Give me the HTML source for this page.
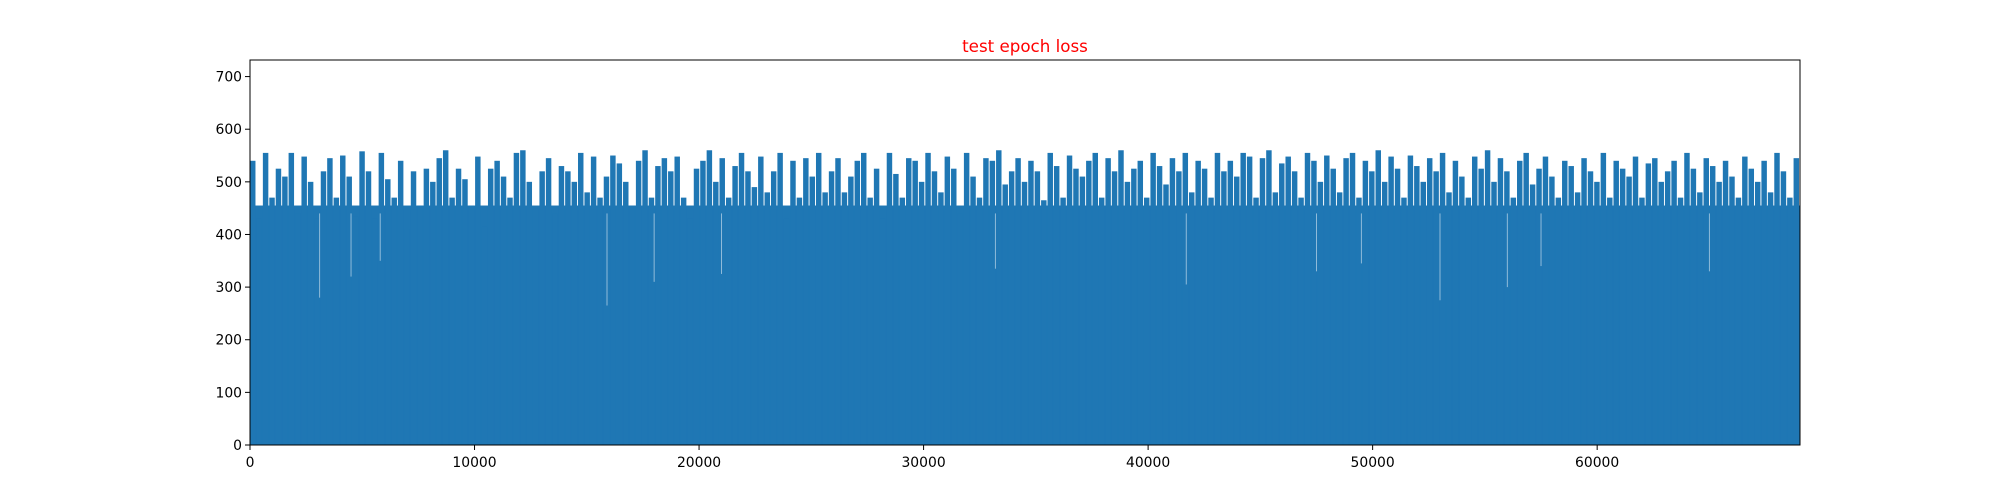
<!DOCTYPE html>
<html><head><meta charset="utf-8"><style>
html,body{margin:0;padding:0;background:#fff;width:2000px;height:500px;overflow:hidden}
svg{display:block;font-family:"DejaVu Sans","Liberation Sans",sans-serif}
</style></head><body>
<svg id="chart" width="2000" height="500" viewBox="0 0 2000 500">
<text x="1025" y="52" text-anchor="middle" font-size="16.7" fill="#ff0000">test epoch loss</text>
<g id="marks"></g>
<g id="dips"></g>
<rect x="250" y="60" width="1550" height="385" fill="none" stroke="#000" stroke-width="1"/>
<g id="xaxis"></g>
<g id="yaxis"></g>
</svg>
<script>
const xTicks=[0,10000,20000,30000,40000,50000,60000];
const yTicks=[0,100,200,300,400,500,600,700];
const loss=[540,430,555,470,525,510,555,440,548,500,430,520,545,470,550,510,435,558,520,430,555,505,470,540,410,520,455,525,500,545,560,470,525,505,455,548,415,525,540,510,470,555,560,500,450,520,545,440,530,520,500,555,480,548,470,510,550,535,500,455,540,560,470,530,545,520,548,470,430,525,540,560,500,545,470,530,555,520,490,548,480,520,555,430,540,470,545,510,555,480,520,545,480,510,540,555,470,525,430,555,515,470,545,540,500,555,520,480,548,525,440,555,510,470,545,540,560,495,520,545,500,540,520,465,555,530,470,550,525,510,540,555,470,545,520,560,500,525,540,470,555,530,495,545,520,555,480,540,525,470,555,520,540,510,555,548,470,545,560,480,535,548,520,470,555,540,500,550,525,480,545,555,470,540,520,560,500,548,525,470,550,530,500,545,520,555,480,540,510,470,548,525,560,500,545,520,470,540,555,495,525,548,510,470,540,530,480,545,520,500,555,470,540,525,510,548,470,535,545,500,520,540,470,555,525,480,545,530,500,540,510,470,548,525,500,540,480,555,520,470,545];
const dipX=[3100,4500,5800,15900,18000,21000,33200,41700,47500,49500,53000,56000,57500,65000];
const dipY=[280,320,350,265,310,325,335,305,330,345,275,300,340,330];
const X0=250,X1=1800,Y0=445,Y1=60,XMAX=69034,YMAX=731.5;
const sx=v=>X0+(v/XMAX)*(X1-X0);
const sy=v=>Y0-(v/YMAX)*(Y0-Y1);
const ns="http://www.w3.org/2000/svg";
const n=loss.length;
const band=document.createElementNS(ns,'rect');
band.setAttribute('x',X0);band.setAttribute('y',sy(455));band.setAttribute('width',X1-X0);band.setAttribute('height',Y0-sy(455));band.setAttribute('fill','#1f77b4');


document.getElementById('marks').appendChild(band);
const step=(X1-X0)/n;
loss.forEach((v,i)=>{
const r=document.createElementNS(ns,'rect');
const x=sx(i*XMAX/n);
r.setAttribute('x',x);r.setAttribute('width',step*0.85);r.setAttribute('y',sy(v));r.setAttribute('height',Y0-sy(v));r.setAttribute('fill','#1f77b4');


document.getElementById('marks').appendChild(r);});
dipX.forEach((xv,i)=>{const l=document.createElementNS(ns,'line');
l.setAttribute('x1',sx(xv));l.setAttribute('x2',sx(xv));l.setAttribute('y1',sy(440));l.setAttribute('y2',sy(dipY[i]));l.setAttribute('stroke','#ffffff');l.setAttribute('stroke-opacity','0.5');l.setAttribute('stroke-width','1');


document.getElementById('dips').appendChild(l);});
const xa=document.getElementById('xaxis');
xTicks.forEach(t=>{const x=sx(t);
const l=document.createElementNS(ns,'line');l.setAttribute('x1',x);l.setAttribute('x2',x);l.setAttribute('y1',Y0);l.setAttribute('y2',Y0+5);l.setAttribute('stroke','#000');


xa.appendChild(l);
const tx=document.createElementNS(ns,'text');tx.setAttribute('x',x);tx.setAttribute('y',Y0+22);tx.setAttribute('text-anchor','middle');tx.setAttribute('font-size','13.9');tx.textContent=t;


xa.appendChild(tx);});
const ya=document.getElementById('yaxis');
yTicks.forEach(t=>{const y=sy(t);
const l=document.createElementNS(ns,'line');l.setAttribute('x1',X0-5);l.setAttribute('x2',X0);l.setAttribute('y1',y);l.setAttribute('y2',y);l.setAttribute('stroke','#000');


ya.appendChild(l);
const tx=document.createElementNS(ns,'text');tx.setAttribute('x',X0-8);tx.setAttribute('y',y+5);tx.setAttribute('text-anchor','end');tx.setAttribute('font-size','13.9');tx.textContent=t;


ya.appendChild(tx);});
</script>
</body></html>
